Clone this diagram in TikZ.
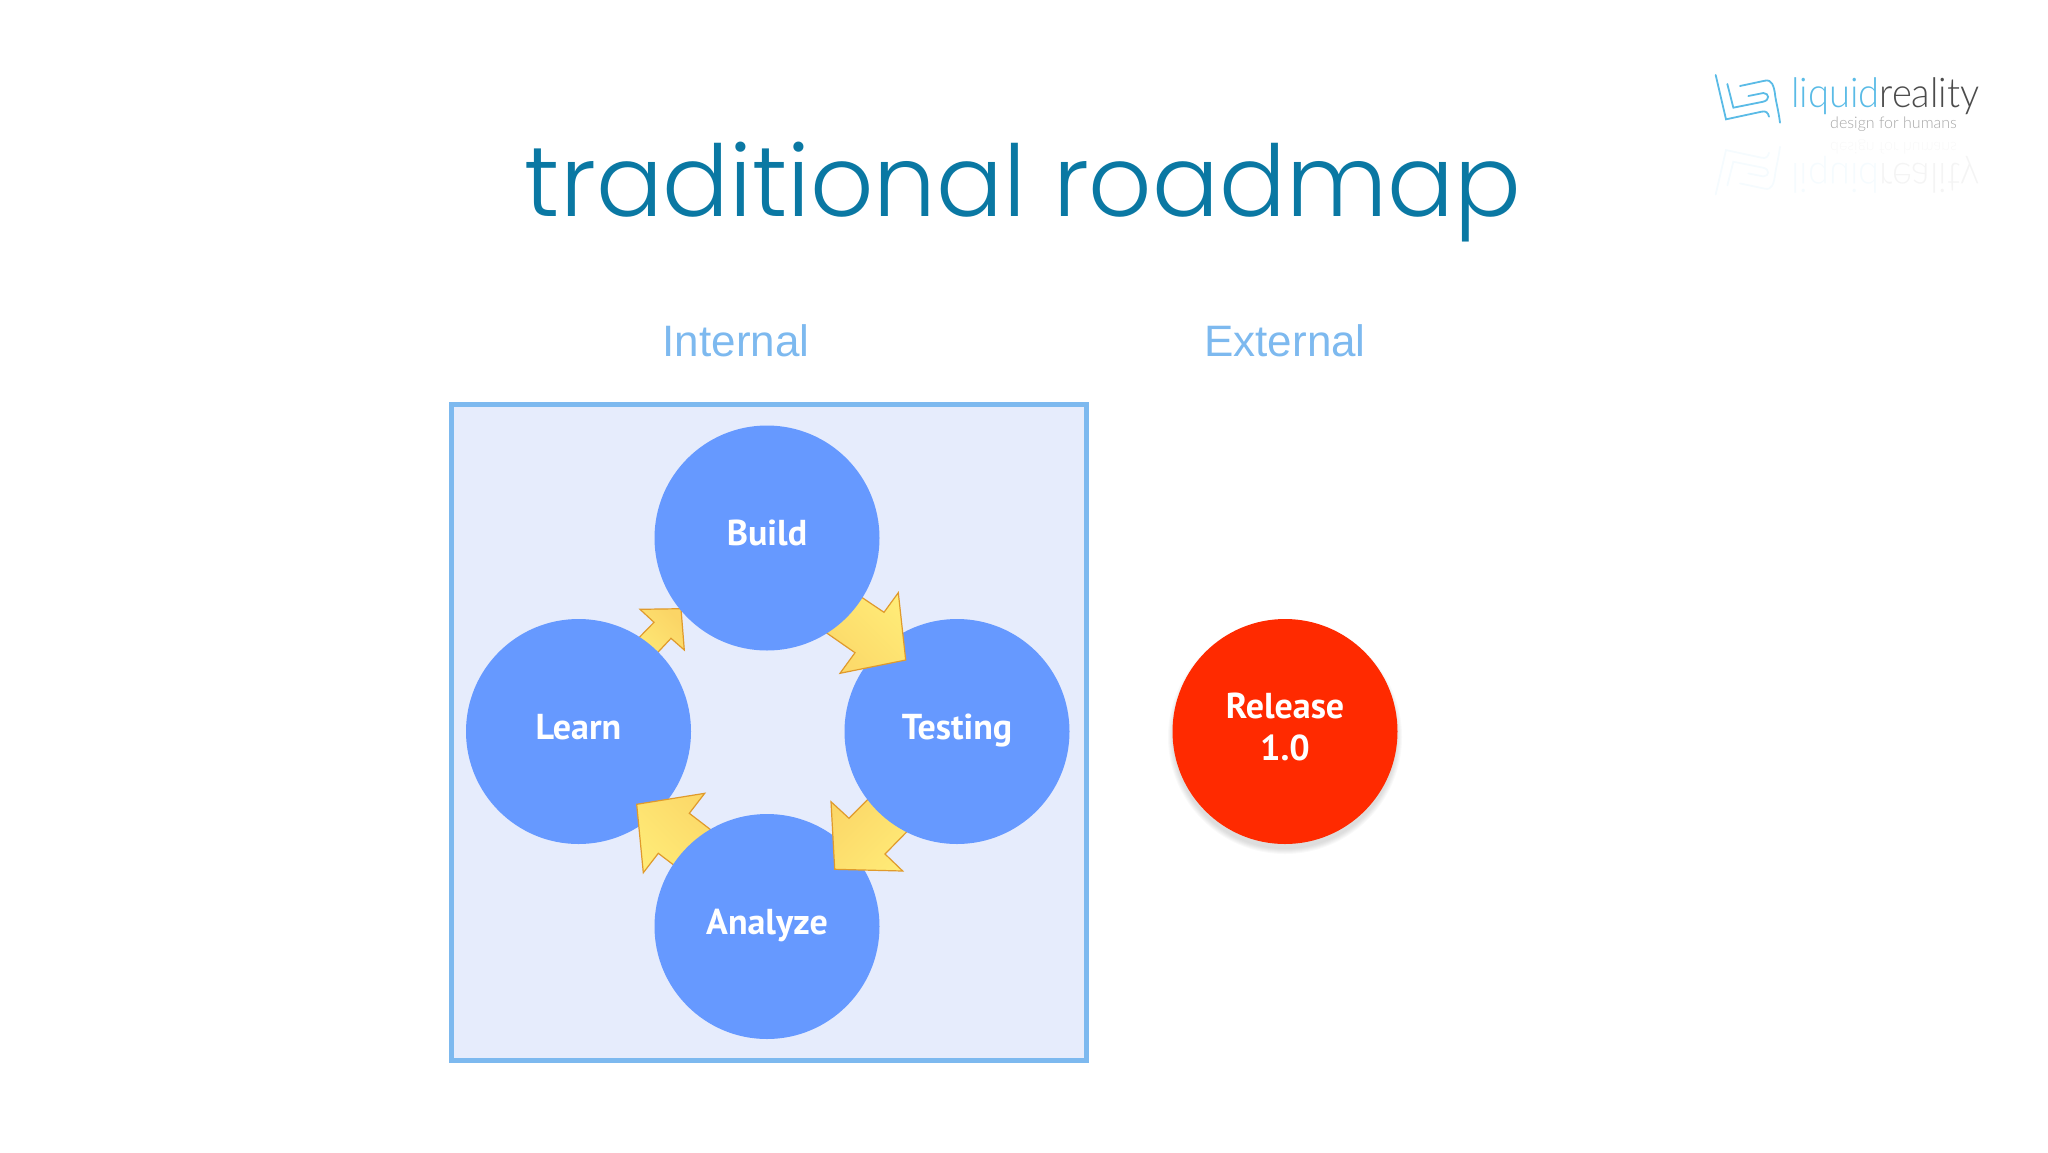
\documentclass[tikz,border=0pt]{standalone}
\usepackage{fontspec}
\setmainfont{Liberation Sans}
\newfontfamily\titlefont[UprightFont=* Light]{Poppins}
\newfontfamily\bubblefont[UprightFont=* Bold]{PT Sans}
\newfontfamily\logofont[UprightFont=* Light]{Lato}
\definecolor{titleblue}{HTML}{0A78A3}
\definecolor{headblue}{HTML}{7DB9EF}
\definecolor{boxfill}{HTML}{E6ECFC}
\definecolor{bubbleblue}{HTML}{6699FF}
\definecolor{releasered}{HTML}{FF2A00}
\definecolor{arrowlight}{HTML}{FFEC78}
\definecolor{arrowdark}{HTML}{FBD566}
\definecolor{arrowline}{HTML}{E09A2C}
\definecolor{logoblue}{HTML}{5ABBE6}
\definecolor{logogray}{HTML}{4C4C4C}
\tikzset{
    bubble/.style={circle, fill=bubbleblue, minimum size=225pt, inner sep=0pt,
        text=white, align=center, font=\bubblefont\fontsize{36}{42}\selectfont},
    blockarrow/.style={draw=arrowline, line width=1.2pt, line join=miter,
        top color=arrowlight, bottom color=arrowdark},
    heading/.style={text=headblue, anchor=base, font=\fontsize{44}{50}\selectfont},
    logoline/.style={draw=logoblue, line width=1.8pt, line cap=round},
    logoword/.style={anchor=base west, inner sep=0pt, xscale=0.93, font=\logofont\fontsize{41}{44}\selectfont},
    logotagline/.style={anchor=base west, inner sep=0pt, font=\logofont\fontsize{16}{20}\selectfont}
}
\newcommand{\logomark}{
    \draw[logoline] (47,45) -- (78,178) -- (185,155) .. controls (198,152) and (204,158) .. (207,170);
    \draw[logoline] (82,72) -- (100,143) -- (190,125) .. controls (210,120) and (208,100) .. (190,99) -- (145,108);
    \draw[logoline] (120,78) -- (195,62) .. controls (215,58) and (222,75) .. (226,110) .. controls (228,125) and (235,150) .. (240,188);
}
\begin{document}
\begin{tikzpicture}[x=1pt, y=-1pt]
    \useasboundingbox (0,0) rectangle (2048,1152);
    % title and headings
    \node[text=titleblue, anchor=base, font=\titlefont\fontsize{99}{110}\selectfont] (title) at (1023,216) {traditional roadmap};
    \node[heading] (internal) at (736,356) {Internal};
    \node[heading] (external) at (1285,356) {External};
    % internal box
    \draw[draw=headblue, fill=boxfill, line width=5pt] (451,404) rectangle (1086,1060.5);
    % each arrow sits above the bubble it points at and under the one it leaves
    \draw[blockarrow, shading angle=135] (626,651) -- (654,622.3) -- (640,609.3) -- (681,608.7) -- (684.3,650) -- (671,638.3) -- (645,666) -- cycle;
    \node[bubble] (learn) at (578.5,731.5) {\raisebox{10pt}{Learn}};
    \draw[blockarrow, shading angle=135] (741,853) -- (689.3,813.3) -- (704.7,793.3) -- (636.7,804.3) -- (643.3,872.7) -- (658.3,853.3) -- (704,888) -- cycle;
    \node[bubble] (analyze) at (767,926.5) {\raisebox{10pt}{Analyze}};
    \draw[blockarrow, shading angle=225] (897,770) -- (849,818.3) -- (831,801.7) -- (834.7,869.3) -- (902.7,871) -- (885,854) -- (935,803) -- cycle;
    \node[bubble] (testing) at (957,731.5) {\raisebox{10pt}{Testing}};
    \draw[blockarrow, shading angle=-45] (833,578) -- (884,612.3) -- (898.3,592.7) -- (905.7,660) -- (840,673.3) -- (855,652.7) -- (798,613) -- cycle;
    \node[bubble] (build) at (767,538) {\raisebox{10pt}{Build}};
    % release with a soft shadow
    \foreach \r in {117,116,115,114,113,112}
        \fill[black, opacity=0.025] (1285,737) circle (\r pt);
    \node[bubble, fill=releasered] (release) at (1285,731.5) {\raisebox{8pt}{\begin{tabular}{@{}c@{}}Release\\1.0\end{tabular}}};
    % logo
    \begin{scope}[shift={(1700,60)}, scale=0.3333]
        \logomark
    \end{scope}
    \node[logoword] (logotext) at (1791,107) {\textcolor{logoblue}{liquid}\textcolor{logogray}{reality}};
    \node[logotagline, text=gray!70] (logotag) at (1830,128) {design for humans};
    % logo reflection
    \begin{scope}[opacity=0.06, transparency group]
        \begin{scope}[shift={(1700,209.4)}, xscale=0.3333, yscale=-0.3333]
            \logomark
        \end{scope}
        \node[logoword, yscale=-1] (logomirror) at (1791,163) {\textcolor{logoblue}{liquid}\textcolor{logogray}{reality}};
        \node[logotagline, yscale=-1, text=gray] (tagmirror) at (1830,142) {design for humans};
    \end{scope}
\end{tikzpicture}
\end{document}
